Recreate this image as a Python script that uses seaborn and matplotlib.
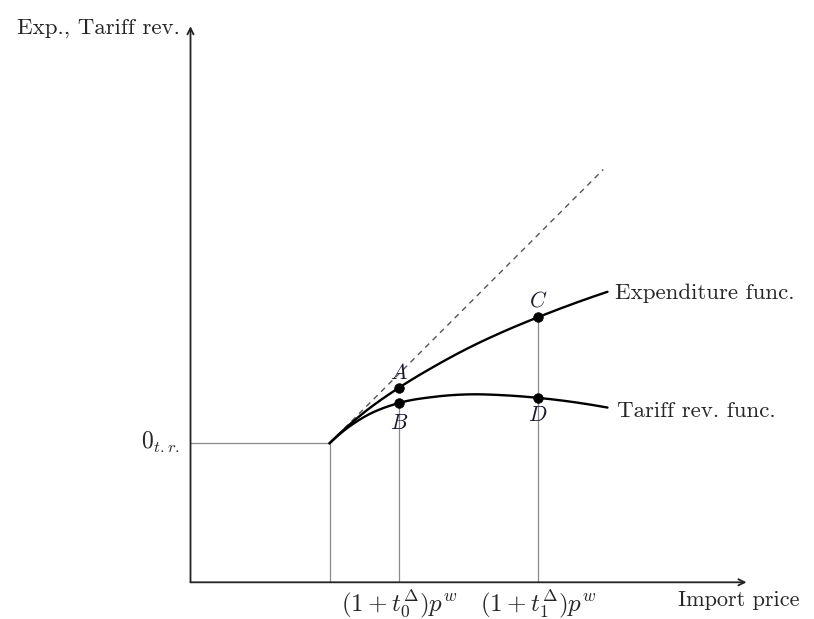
import numpy as np
import pandas as pd
import matplotlib
matplotlib.use("Agg")
import matplotlib.pyplot as plt
import seaborn as sns

sns.set_theme(style="white")
plt.rcParams["mathtext.fontset"] = "cm"
plt.rcParams["font.family"] = ["cmr10", "DejaVu Serif"]
plt.rcParams["axes.unicode_minus"] = False

# Expenditure and tariff revenue against the import price (p^w = 1 at free trade)
price = [1.0, 1.1, 1.25, 1.5, 1.75, 2.0, 2.25, 2.5, 3.0]
expenditure = [1.0, 1.095, 1.223, 1.40, 1.551, 1.686, 1.803, 1.907, 2.09]
tariff_rev = [1.0, 1.088, 1.19, 1.29, 1.334, 1.352, 1.346, 1.327, 1.257]

# 45-degree reference line starting at the free-trade point
ref_x = [1.0, 2.97]
ref_y = [1.0, 2.97]

# Free-trade price and the zero-tariff-revenue level
free_trade_price = 1.0
zero_tr_level = 1.0

# Tariff-inclusive prices marked on the horizontal axis
tick_prices = [1.5, 2.5]
tick_labels = [r"$(1+t_0^{\Delta})p^w$", r"$(1+t_1^{\Delta})p^w$"]

# Labelled points on the two curves
point_names = ["A", "B", "C", "D"]
point_price = [1.5, 1.5, 2.5, 2.5]
point_curve = ["exp", "tr", "exp", "tr"]


def smooth_curve(xs, ys, n=300):
    """Cubic Hermite curve through the points, with three-point slopes."""
    xs = np.asarray(xs, float)
    ys = np.asarray(ys, float)
    h = np.diff(xs)
    d = np.diff(ys) / h
    m = np.zeros_like(xs)
    for k in range(1, len(xs) - 1):
        m[k] = (h[k] * d[k - 1] + h[k - 1] * d[k]) / (h[k - 1] + h[k])
    m[0] = ((2 * h[0] + h[1]) * d[0] - h[0] * d[1]) / (h[0] + h[1])
    m[-1] = ((2 * h[-1] + h[-2]) * d[-1] - h[-1] * d[-2]) / (h[-1] + h[-2])
    xf = np.linspace(xs[0], xs[-1], n)
    idx = np.clip(np.searchsorted(xs, xf) - 1, 0, len(xs) - 2)
    t = (xf - xs[idx]) / h[idx]
    h00 = 2 * t**3 - 3 * t**2 + 1
    h10 = t**3 - 2 * t**2 + t
    h01 = -2 * t**3 + 3 * t**2
    h11 = t**3 - t**2
    yf = (h00 * ys[idx] + h10 * h[idx] * m[idx]
          + h01 * ys[idx + 1] + h11 * h[idx] * m[idx + 1])
    return xf, yf


curves = {"exp": expenditure, "tr": tariff_rev}
point_value = [curves[c][price.index(p)] for c, p in zip(point_curve, point_price)]
points = pd.DataFrame({"price": point_price, "value": point_value, "name": point_names})

fig = plt.figure(figsize=(8.14, 6.19), dpi=100)
ax = fig.add_axes([0, 0, 1, 1])
ax.set_xlim(-1.3705, 4.4856)
ax.set_ylim(-0.264, 4.189)
ax.axis("off")

guide = dict(color="#8a8a8a", lw=0.9, zorder=1)
# free-trade corner
ax.plot([0, free_trade_price], [zero_tr_level, zero_tr_level], **guide)
ax.plot([free_trade_price, free_trade_price], [0, zero_tr_level], **guide)
# drop lines from the marked points
ax.plot([tick_prices[0], tick_prices[0]], [0, point_value[1]], **guide)
ax.plot([tick_prices[1], tick_prices[1]], [0, point_value[2]], **guide)

# axes with arrow heads
arrow = dict(arrowstyle="->", lw=1.3, color="#222222", shrinkA=0, shrinkB=0,
             mutation_scale=11)
ax.annotate("", xy=(4.0, 0), xytext=(0, 0), arrowprops=arrow, zorder=2)
ax.annotate("", xy=(0, 4.0), xytext=(0, 0), arrowprops=arrow, zorder=2)

# dashed 45-degree line
sns.lineplot(x=ref_x, y=ref_y, ax=ax, color="#555555", lw=1.0, zorder=2)
ax.lines[-1].set_dashes((4, 3.5))

# expenditure and tariff revenue curves
for key in ["exp", "tr"]:
    xf, yf = smooth_curve(price, curves[key])
    sns.lineplot(x=xf, y=yf, ax=ax, sort=False, estimator=None,
                 color="black", lw=1.7, zorder=3)

sns.scatterplot(data=points, x="price", y="value", ax=ax, s=48,
                color="black", edgecolor="black", linewidth=0.5, zorder=5)

offsets = {"A": 0.063, "B": -0.185, "C": 0.074, "D": -0.167}
for name, px, py in zip(point_names, point_price, point_value):
    ax.text(px, py + offsets[name], f"${name}$", ha="center", va="baseline",
            fontsize=15.5, color="#1a1a2e")

for tp, tl in zip(tick_prices, tick_labels):
    ax.text(tp, -0.212, tl, ha="center", va="baseline", fontsize=18)

ax.text(-0.076, 3.95, "Exp., Tariff rev.", ha="right", va="baseline", fontsize=16.5)
ax.text(-0.076, 0.957, r"$0_{t.r.}$", ha="right", va="baseline", fontsize=17)
ax.text(3.054, 2.038, "Expenditure func.", ha="left", va="baseline", fontsize=16.5)
ax.text(3.07, 1.19, "Tariff rev. func.", ha="left", va="baseline", fontsize=16.5)
ax.text(3.509, -0.168, "Import price", ha="left", va="baseline", fontsize=16)

fig.savefig("out.png", dpi=100, facecolor="white")
